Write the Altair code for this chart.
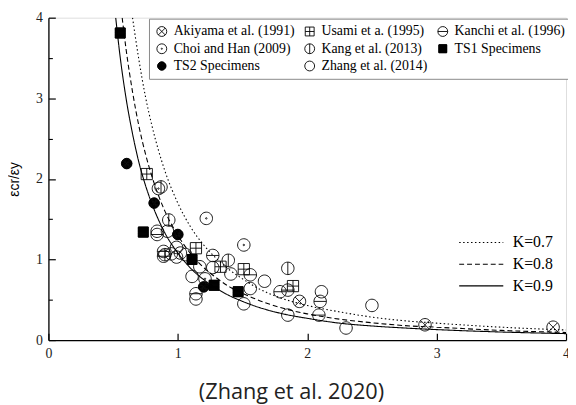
import altair as alt
import pandas as pd

# ---- theoretical curves ----
k_labels = ["K=0.7", "K=0.8", "K=0.9"]

k07_x = [0.65, 0.70, 0.75, 0.80, 0.90, 1.00, 1.10, 1.20, 1.30, 1.40, 1.50, 1.60, 1.80, 2.00, 2.25, 2.50, 2.75, 3.00, 3.50, 4.00]
k07_y = [4.00, 3.47, 3.02, 2.66, 2.10, 1.70, 1.40, 1.18, 1.01, 0.87, 0.76, 0.66, 0.52, 0.43, 0.35, 0.285, 0.24, 0.21, 0.16, 0.125]

k08_x = [0.57, 0.60, 0.65, 0.70, 0.75, 0.80, 0.90, 1.00, 1.10, 1.20, 1.30, 1.40, 1.50, 1.60, 1.80, 2.00, 2.25, 2.50, 2.75, 3.00, 3.50, 4.00]
k08_y = [4.00, 3.61, 3.08, 2.65, 2.31, 2.03, 1.60, 1.30, 1.07, 0.90, 0.77, 0.66, 0.58, 0.51, 0.40, 0.325, 0.26, 0.215, 0.18, 0.16, 0.12, 0.095]

k09_x = [0.52, 0.55, 0.60, 0.65, 0.70, 0.75, 0.80, 0.90, 1.00, 1.10, 1.20, 1.30, 1.40, 1.50, 1.60, 1.80, 2.00, 2.25, 2.50, 2.75, 3.00, 3.50, 4.00]
k09_y = [4.00, 3.57, 3.00, 2.56, 2.20, 1.92, 1.69, 1.33, 1.08, 0.89, 0.75, 0.64, 0.55, 0.48, 0.42, 0.33, 0.27, 0.21, 0.175, 0.15, 0.13, 0.10, 0.08]

# ---- test data ----
sources = ["Akiyama et al. (1991)", "Usami et a. (1995)", "Kanchi et al. (1996)",
           "Choi and Han (2009)", "Kang et al. (2013)", "TS1 Specimens",
           "TS2 Specimens", "Zhang et al. (2014)"]

akiyama_x = [1.94, 2.91, 3.90]
akiyama_y = [0.48, 0.19, 0.16]

usami_x = [0.76, 1.14, 1.33, 1.51, 1.89]
usami_y = [2.06, 1.14, 0.91, 0.88, 0.67]

kanchi_x = [0.84, 0.89, 0.89, 1.27, 1.56, 1.14, 1.79, 1.85, 2.10, 2.09]
kanchi_y = [1.31, 1.10, 1.04, 1.05, 0.81, 0.575, 0.60, 0.62, 0.48, 0.31]

choi_x = [1.22, 1.51, 1.21, 0.85, 0.95]
choi_y = [1.51, 1.18, 0.76, 1.88, 1.07]

kang_x = [0.93, 1.39, 1.85, 0.87, 0.90]
kang_y = [1.49, 0.99, 0.89, 1.90, 1.06]

ts1_x = [0.555, 0.733, 1.11, 1.28, 1.466]
ts1_y = [3.81, 1.34, 1.00, 0.68, 0.60]

ts2_x = [0.605, 0.817, 1.00, 1.20]
ts2_y = [2.19, 1.70, 1.31, 0.66]

zhang_x = [0.84, 0.92, 0.99, 1.06, 1.17, 1.27, 1.41, 1.67, 1.11, 1.14, 1.56, 1.51,
           2.11, 2.50, 1.85, 2.30, 1.02, 0.99]
zhang_y = [1.35, 1.35, 1.15, 1.06, 0.91, 0.90, 0.82, 0.73, 0.79, 0.51, 0.64, 0.45,
           0.60, 0.43, 0.31, 0.15, 1.08, 1.03]

tick_major = [0, 1, 2, 3, 4]
tick_minor = [0.5, 1.5, 2.5, 3.5]

# ---- tables ----
curve_rows = []
for lab, xs, ys in zip(k_labels, [k07_x, k08_x, k09_x], [k07_y, k08_y, k09_y]):
    for xv, yv in zip(xs, ys):
        curve_rows.append({"x": xv, "y": yv, "K": lab})
curve_df = pd.DataFrame(curve_rows)

pt_rows = []
for src, xs, ys in zip(sources,
                       [akiyama_x, usami_x, kanchi_x, choi_x, kang_x, ts1_x, ts2_x, zhang_x],
                       [akiyama_y, usami_y, kanchi_y, choi_y, kang_y, ts1_y, ts2_y, zhang_y]):
    for xv, yv in zip(xs, ys):
        pt_rows.append({"x": xv, "y": yv, "Source": src})
pt_df = pd.DataFrame(pt_rows)

# ---- symbol shapes (solid ones are drawn as densely hatched outlines) ----
def ring(r):
    return f"M{r},0A{r},{r} 0 1,1 -{r},0A{r},{r} 0 1,1 {r},0Z"

circ = ring(1)
hatch = "M-0.8,-0.8" + "".join(
    f"H{0.8 if i % 2 == 0 else -0.8}V{-0.8 + 0.05 * (i + 1):.2f}" for i in range(32)
) + "H0.8"
solid_square = "M-0.8,-0.8H0.8V0.8H-0.8Z" + hatch
solid_circle = "".join(ring(round(0.85 - 0.05 * i, 2)) for i in range(17))

shapes = [
    circ + "M-0.707,-0.707L0.707,0.707M-0.707,0.707L0.707,-0.707",
    "M-0.9,-0.9H0.9V0.9H-0.9ZM0,-0.9V0.9M-0.9,0H0.9",
    circ + "M-1,0H1",
    circ + ring(0.12),
    circ + "M0,-1V1",
    solid_square,
    solid_circle,
    circ,
]

serif = "Liberation Serif"
xs_ = alt.Scale(domain=[0, 4], nice=False, zero=False)
ys_ = alt.Scale(domain=[0, 4], nice=False, zero=False)

src_legend = alt.Legend(
    title=None, orient="none", legendX=102, legendY=1, columns=3,
    direction="horizontal", gridAlign="none", columnPadding=8, rowPadding=3.5,
    padding=6, fillColor="white", strokeColor="#888", labelFont=serif,
    labelFontSize=14, labelColor="black", symbolSize=100,
    symbolStrokeColor="black", symbolStrokeWidth=0.9, labelOffset=5, labelLimit=300,
)
k_legend = alt.Legend(
    title=None, orient="none", legendX=427, legendY=216, padding=0,
    labelFont=serif, labelFontSize=16, labelColor="black",
    symbolType="M-2,0H2", symbolSize=500, symbolStrokeColor="black",
    rowPadding=2, labelOffset=20,
)

lines = alt.Chart(curve_df).mark_line(clip=True, color="black", interpolate="monotone").encode(
    x=alt.X("x:Q", scale=xs_, axis=alt.Axis(
        orient="bottom", values=tick_major, ticks=False, grid=False, title=None,
        labelFont=serif, labelFontSize=14, labelColor="#222", labelPadding=7,
        domainColor="black", domainWidth=1.3, format="d", labelFlush=False)),
    y=alt.Y("y:Q", scale=ys_, axis=alt.Axis(
        orient="left", values=tick_major, ticks=False, grid=False, title="εcr/εy",
        titleFont="Liberation Sans", titleFontSize=14, titleFontWeight="normal",
        titleColor="black", titlePadding=14,
        labelFont=serif, labelFontSize=14, labelColor="#222", labelPadding=6,
        domainColor="black", domainWidth=1.3, format="d", labelFlush=False)),
    strokeDash=alt.StrokeDash("K:O", scale=alt.Scale(domain=k_labels, range=[[1.5, 2.5], [5, 3], [1, 0]]),
                              legend=k_legend),
    strokeWidth=alt.StrokeWidth("K:O", scale=alt.Scale(domain=k_labels, range=[1.1, 1.1, 2.4]),
                                legend=k_legend),
)

points = alt.Chart(pt_df).mark_point(clip=True, stroke="black", strokeWidth=0.9, filled=False,
                                     opacity=1, size=160).encode(
    x=alt.X("x:Q", scale=xs_, axis=alt.Axis(
        orient="bottom", values=tick_major, labels=False, domain=False, grid=False,
        ticks=True, tickSize=7, offset=-7, tickColor="black", tickWidth=1.2, title=None)),
    y=alt.Y("y:Q", scale=ys_, axis=alt.Axis(
        orient="left", values=tick_major, labels=False, domain=False, grid=False,
        ticks=True, tickSize=7, offset=-7, tickColor="black", tickWidth=1.2, title=None)),
    shape=alt.Shape("Source:N", scale=alt.Scale(domain=sources, range=shapes), legend=src_legend),
)

minor = alt.Chart(pt_df).mark_point(opacity=0, size=1).encode(
    x=alt.X("x:Q", scale=xs_, axis=None),
    y=alt.Y("y:Q", scale=ys_, axis=alt.Axis(
        orient="left", values=tick_minor, labels=False, domain=False, grid=False,
        ticks=True, tickSize=4, offset=-4, tickColor="black", tickWidth=1.1, title=None)),
)

chart = alt.layer(lines, points, minor).resolve_axis(
    x="independent", y="independent"
).properties(
    width=525, height=327,
    autosize=alt.AutoSizeParams(type="none"),
    padding={"left": 41, "top": 7, "right": 2, "bottom": 62},
    title=alt.TitleParams(
        "(Zhang et al. 2020)", orient="bottom", font="Open Sans", fontSize=22,
        fontWeight="normal", color="#222", offset=22, dx=-16, anchor="middle"),
).configure_view(stroke="black", strokeWidth=1.3).configure(background="white")

chart.save("out.html", embed_options={"renderer": "svg", "actions": False})
